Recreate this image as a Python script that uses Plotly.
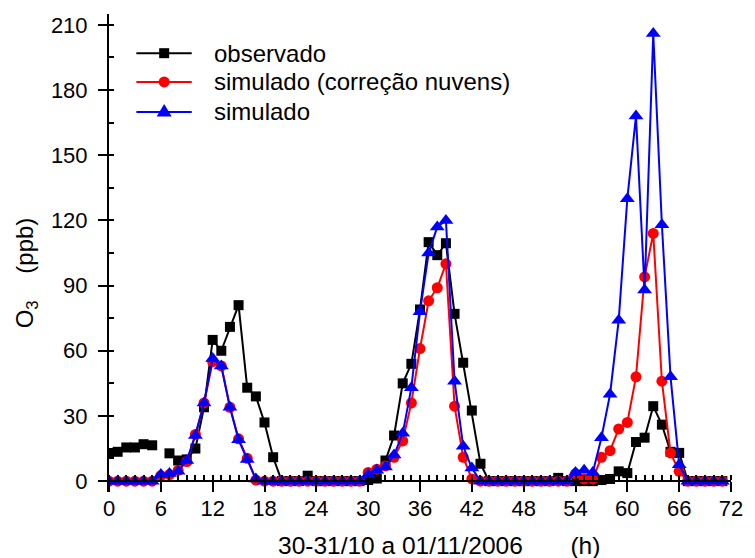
import plotly.graph_objects as go

# Hourly ozone, 30-31/10 to 01/11/2006
hours = list(range(72))

observado = [
    12.5, 13.5, 15.5, 15.5, 17, 16.5, None, 12.8, 9.5, 10,
    15, 34, 65, 60, 71, 81, 43, 39, 27, 11,
    0, 0, 0, 2.5, 0, 0, 0, 0, 0, 0,
    0.5, 1.2, 9.5, 21, 45, 54, 79, 110, 104, 109.5,
    77, 54.5, 32.5, 8, 0, 0, 0, 0, 0, 0,
    0, 0, 1.5, 0, 0, 0, 0, 0.5, 1, 4.5,
    3.7, 18, 20, 34.5, 26, 13.5, 13, 0, 0, 0,
    0, 0,
]

sim_nuvens = [
    0, 0, 0, 0, 0, 0, 2.5, 3, 5, 9,
    21.5, 36, 55, 53, 34, 19.5, 10.5, 0.5, 0, 0,
    0, 0, 0, 0, 0, 0, 0, 0, 0, 0,
    4, 5.5, 7, 11, 18.5, 36, 61, 83, 89, 100,
    34.5, 11, 1, 0, 0, 0, 0, 0, 0, 0,
    0, 0, 0, 0, 3.5, 1, 1, 11, 14, 24,
    27, 48, 94, 114, 46, 13, 4.5, 0, 0, 0,
    0, 0,
]

simulado = [
    0, 0, 0, 0, 0, 0, 3, 3.5, 4.5, 9.5,
    21, 36, 56.5, 53, 34, 19, 10, 1, 0, 0,
    0, 0, 0, 0, 0, 0, 0, 0, 0, 0,
    3, 5, 6.5, 12, 22, 43, 78, 105, 117, 120,
    46, 16, 6, 0, 0, 0, 0, 0, 0, 0,
    0, 0, 0, 0, 4, 5, 4, 20, 40, 74,
    130, 168, 88, 206, 118, 48, 7.5, 0, 0, 0,
    0, 0,
]

series_names = ["observado", "simulado (correção nuvens)", "simulado"]
series_colors = ["#000000", "#ff0000", "#0000ff"]
series_symbols = ["square", "circle", "triangle-up"]
series_sizes = [10, 11, 13]

FONT = "Liberation Sans, Arial, sans-serif"
X_RANGE = [0, 72]
Y_RANGE = [-5, 215]
# the bottom axis sits on y = 0, slightly above the bottom of the frame
X_POS = (0 - Y_RANGE[0]) / (Y_RANGE[1] - Y_RANGE[0])

fig = go.Figure()
for ys, name, color, symbol, size in zip(
    [observado, sim_nuvens, simulado], series_names, series_colors, series_symbols, series_sizes
):
    fig.add_trace(go.Scatter(
        x=hours, y=ys, name=name, mode="lines+markers",
        line=dict(color=color, width=2),
        marker=dict(symbol=symbol, size=size, color=color),
        showlegend=False,
    ))

# Legend key: long line segment with the marker in its middle, text to the right
shapes = []
annotations = []
legend_rows = [0.918, 0.858, 0.795]      # paper y of each row
line_x0, line_x1, mark_x, text_x = 0.044, 0.133, 0.0887, 0.165
for y, name, color, symbol in zip(legend_rows, series_names, series_colors, series_symbols):
    shapes.append(dict(type="line", xref="paper", yref="paper",
                       x0=line_x0, x1=line_x1, y0=y, y1=y,
                       line=dict(color=color, width=2)))
    common_px = dict(xref="paper", yref="paper", xsizemode="pixel", ysizemode="pixel",
                     xanchor=mark_x, yanchor=y, fillcolor=color, line=dict(width=0))
    if symbol == "square":
        shapes.append(dict(type="rect", x0=-5, x1=5, y0=-5, y1=5, **common_px))
    elif symbol == "circle":
        shapes.append(dict(type="circle", x0=-5.5, x1=5.5, y0=-5.5, y1=5.5, **common_px))
    else:
        shapes.append(dict(type="path", path="M-7.5,-4.5 L7.5,-4.5 L0,8 Z", **common_px))
    annotations.append(dict(text=name, xref="paper", yref="paper", x=text_x, y=y,
                            xanchor="left", yanchor="middle", showarrow=False,
                            font=dict(size=24, family=FONT, color="#000000")))

annotations += [
    dict(
        text="30-31/10 a 01/11/2006       (h)", xref="paper", yref="paper",
        x=0.53, y=-0.111, xanchor="center", yanchor="middle",
        showarrow=False, font=dict(size=24.5, family=FONT, color="#000000"),
    ),
    dict(
        text="O<sub>3</sub>    (ppb)", xref="paper", yref="paper",
        x=-0.133, y=0.458, xanchor="center", yanchor="middle",
        textangle=-90, showarrow=False, font=dict(size=24, family=FONT, color="#000000"),
    ),
]

common = dict(showgrid=False, zeroline=False, color="#000000")

fig.update_layout(
    width=755, height=558,
    margin=dict(l=109, r=15, t=14, b=66),
    paper_bgcolor="white", plot_bgcolor="white",
    font=dict(family=FONT, color="#000000"),
    showlegend=False,
    xaxis=dict(
        range=X_RANGE, anchor="free", position=X_POS,
        showline=True, linecolor="#000000", linewidth=2,
        ticks="outside", ticklen=10, tickwidth=2, tickcolor="#000000",
        tick0=0, dtick=6, tickfont=dict(size=22), ticklabelstandoff=-3,
        minor=dict(ticks="inside", dtick=1, tick0=0, ticklen=5, tickwidth=1.5, tickcolor="#000000"),
        **common,
    ),
    yaxis=dict(
        range=Y_RANGE, anchor="x",
        showline=True, linecolor="#000000", linewidth=2,
        ticks="outside", ticklen=9, tickwidth=2, tickcolor="#000000",
        tick0=0, dtick=30, tickfont=dict(size=22), ticklabelstandoff=6,
        minor=dict(ticks="inside", dtick=15, tick0=0, ticklen=5, tickwidth=1.5, tickcolor="#000000"),
        **common,
    ),
    # top frame edge
    xaxis2=dict(
        range=X_RANGE, overlaying="x", side="top", anchor="y",
        showline=True, linecolor="#000000", linewidth=2,
        ticks="inside", ticklen=3, tickwidth=1, tickcolor="#000000",
        tick0=0, dtick=1, showticklabels=False, **common,
    ),
    # right frame edge
    yaxis2=dict(
        range=Y_RANGE, overlaying="y", side="right", anchor="x",
        showline=True, linecolor="#000000", linewidth=2,
        ticks="inside", ticklen=3, tickwidth=1, tickcolor="#000000",
        tick0=0, dtick=10, showticklabels=False, **common,
    ),
    # inner half of the major ticks (major ticks cross the axis lines)
    xaxis3=dict(
        range=X_RANGE, overlaying="x", anchor="free", position=X_POS,
        showline=False, ticks="inside", ticklen=9, tickwidth=2, tickcolor="#000000",
        tick0=0, dtick=6, showticklabels=False, **common,
    ),
    yaxis3=dict(
        range=Y_RANGE, overlaying="y", anchor="x", side="left",
        showline=False, ticks="inside", ticklen=9, tickwidth=2, tickcolor="#000000",
        tick0=0, dtick=30, showticklabels=False, **common,
    ),
    shapes=shapes,
    annotations=annotations,
)

fig.write_html("out.html")
